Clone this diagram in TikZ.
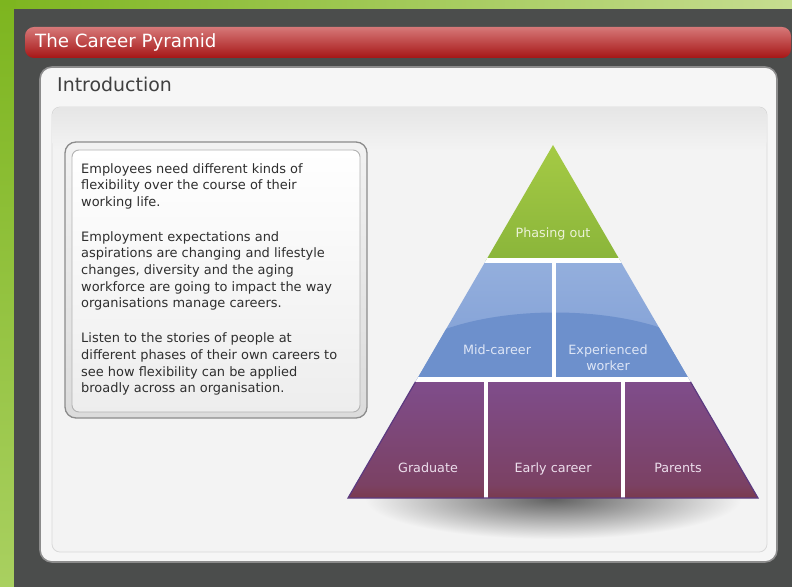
\documentclass[tikz,border=0pt]{standalone}
\usepackage{fontspec}
\setmainfont{DejaVu Sans}
\definecolor{darkpanel}{HTML}{4B4D4C}
\definecolor{grnA}{HTML}{7DB51F}
\definecolor{grnB}{HTML}{C6DD90}
\definecolor{grnC}{HTML}{A9D060}
\definecolor{redTop}{HTML}{D67878}
\definecolor{redMid}{HTML}{B72424}
\definecolor{redBot}{HTML}{A61616}
\definecolor{panelbg}{HTML}{F6F6F6}
\definecolor{innerbg}{HTML}{F3F3F3}
\definecolor{txt}{HTML}{2E2E2E}
\definecolor{pgTop}{HTML}{A6CB45}
\definecolor{pgBot}{HTML}{8AB53A}
\definecolor{pbTop}{HTML}{94AFDD}
\definecolor{pbBot}{HTML}{7E9DD4}
\definecolor{pbDark}{HTML}{6D90CC}
\definecolor{ppTop}{HTML}{7F4D8C}
\definecolor{ppBot}{HTML}{7B4163}
\definecolor{ppBand}{HTML}{7A3A4C}
\definecolor{ppEdge}{HTML}{5C3A80}
\definecolor{lblG}{HTML}{EBF2D7}
\definecolor{lblB}{HTML}{DEE6F6}
\definecolor{lblP}{HTML}{ECDEEC}
\tikzset{
  lbl/.style={font=\fontsize{12.8}{16}\selectfont, inner sep=0pt, align=center, anchor=base},
}
\begin{document}
\begin{tikzpicture}[x=1bp,y=-1bp]
\useasboundingbox (0,0) rectangle (792,587);
% green backdrop
\shade[left color=grnA, right color=grnB] (0,0) rectangle (792,10);
\shade[top color=grnA, bottom color=grnC] (0,0) rectangle (15,587);
\fill[darkpanel] (14,9) rectangle (792,587);
% red title bar
\shade[rounded corners=9, top color=redTop, middle color=redMid, bottom color=redBot] (25,27) rectangle (791,58);
\node[anchor=base west, inner sep=0pt, text=white, font=\fontsize{18.3}{20}\selectfont] (title) at (35,47.5) {The Career Pyramid};
% white panel
\draw[rounded corners=12, fill=panelbg, draw=black!45, line width=1.6] (40,67) rectangle (777,562);
\node[anchor=base west, inner sep=0pt, text=black!75, font=\fontsize{19}{20}\selectfont] (intro) at (57,91.5) {Introduction};
% inner panel
\draw[rounded corners=8, fill=innerbg, draw=black!15, line width=0.8] (52,107) rectangle (767,552);
\shade[rounded corners=8, top color=black!10, bottom color=innerbg] (52.5,107.5) rectangle (766.5,150);
% text box
\draw[rounded corners=11, top color=black!5, bottom color=black!14, draw=black!45, line width=1.3] (65,142) rectangle (367,418);
\draw[rounded corners=7, top color=white, bottom color=black!7, draw=black!30, line width=0.9] (72,150) rectangle (360,412);
\node[anchor=north west, inner sep=0pt, align=left, text=txt, font=\fontsize{13}{16.7}\selectfont] (body) at (81,163) {%
Employees need different kinds of\\
flexibility over the course of their\\
working life.\\[18.3bp]
Employment expectations and\\
aspirations are changing and lifestyle\\
changes, diversity and the aging\\
workforce are going to impact the way\\
organisations manage careers.\\[18.3bp]
Listen to the stories of people at\\
different phases of their own careers to\\
see how flexibility can be applied\\
broadly across an organisation.};
% shadow under pyramid
\shade[inner color=black!62, outer color=innerbg] (553,499) ellipse [x radius=188, y radius=40];
% pyramid
\coordinate (apex) at (553,145);
\coordinate (bl) at (348,498);
\coordinate (br) at (758,498);
\begin{scope}
  \clip (apex) -- (br) -- (bl) -- cycle;
  \shade[top color=pgTop, bottom color=pgBot] (340,140) rectangle (770,261);
  \shade[top color=pbTop, bottom color=pbBot] (340,260) rectangle (770,381);
  \fill[pbDark] (405,350) .. controls (470,300) and (640,300) .. (705,350) -- (705,381) -- (405,381) -- cycle;
  \shade[top color=ppTop, bottom color=ppBot] (340,380) rectangle (770,486);
  \shade[top color=ppBot, bottom color=ppBand] (340,485) rectangle (770,499);
  \draw[white, line width=4.5] (340,260.5) -- (770,260.5);
  \draw[white, line width=4.5] (340,379.5) -- (770,379.5);
  \draw[white, line width=4] (554,260) -- (554,380);
  \draw[white, line width=4] (486,380) -- (486,499);
  \draw[white, line width=4] (623,380) -- (623,499);
\end{scope}
\draw[ppEdge, line width=1.2] (415.4,382) -- (bl) -- (br) -- (690.6,382);
% labels
\node[lbl, text=lblG] (phase) at (553,237.5) {Phasing out};
\node[lbl, text=lblB] (mid) at (497,354.5) {Mid-career};
\node[lbl, text=lblB] (exp) at (608,370.5) {Experienced\\worker};
\node[lbl, text=lblP] (grad) at (428,472.5) {Graduate};
\node[lbl, text=lblP] (early) at (553,472.5) {Early career};
\node[lbl, text=lblP] (par) at (678,472.5) {Parents};
\end{tikzpicture}
\end{document}
